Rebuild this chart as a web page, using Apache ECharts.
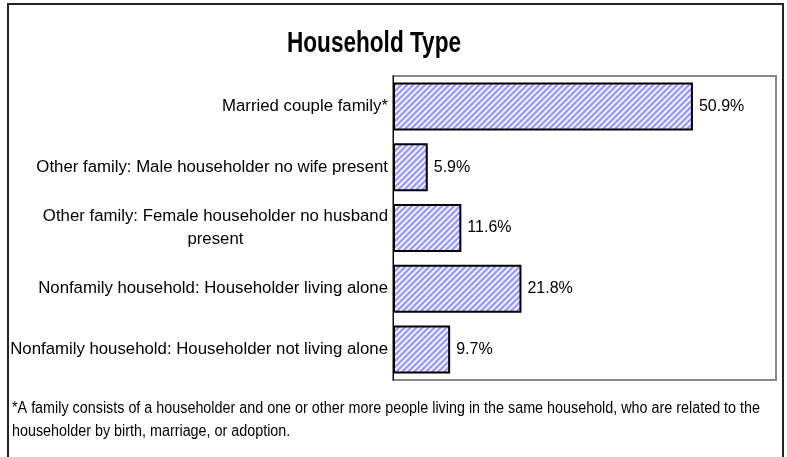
<!DOCTYPE html>
<html>
<head>
<meta charset="utf-8">
<script src="https://cdn.jsdelivr.net/npm/echarts@6/dist/echarts.min.js"></script>
<style>
  html, body { margin: 0; padding: 0; background: #fff; }
  #chart { width: 787px; height: 457px; }
</style>
</head>
<body>
<div id="chart"></div>
<script>
// data
var categories = [
    'Married couple family*',
    'Other family: Male householder no wife present',
    'Other family: Female householder no husband\npresent',
    'Nonfamily household: Householder living alone',
    'Nonfamily household: Householder not living alone'
];
var shares = [50.9, 5.9, 11.6, 21.8, 9.7];
var titleText = 'Household Type';
var footLines = [
    '*A family consists of a householder and one or other more people living in the same household, who are related to the',
    'householder by birth, marriage, or adoption.'
];

var baseFont = '"Liberation Sans", Arial, sans-serif';

// striped fill for the bars
function makeStripes() {
    var s = 6;
    var c = document.createElement('canvas');
    c.width = s; c.height = s;
    var ctx = c.getContext('2d');
    ctx.fillStyle = '#ffffff';
    ctx.fillRect(0, 0, s, s);
    ctx.strokeStyle = '#9a9cff';
    ctx.lineWidth = 2.6;
    ctx.beginPath();
    ctx.moveTo(0, s); ctx.lineTo(s, 0);
    ctx.moveTo(-s / 2, s / 2); ctx.lineTo(s / 2, -s / 2);
    ctx.moveTo(s / 2, s * 1.5); ctx.lineTo(s * 1.5, s / 2);
    ctx.stroke();
    return c;
}

// the original uses a narrow face; squeeze the regular one to the same width
function squeeze(text, font, target) {
    var ctx = document.createElement('canvas').getContext('2d');
    ctx.font = font;
    return target / ctx.measureText(text).width;
}

var titleFont = 'bold 30px ' + baseFont;
var footFont = '16px ' + baseFont;
var titleScale = squeeze(titleText, titleFont, 174);
var footScale = squeeze(footLines[0], footFont, 748);

var chart = echarts.init(document.getElementById('chart'));
chart.setOption({
    animation: false,
    textStyle: { fontFamily: baseFont },
    grid: {
        left: 393, top: 76, right: 11, bottom: 77,
        show: true, borderColor: '#888', borderWidth: 2
    },
    xAxis: {
        type: 'value', min: 0, max: 65,
        axisLine: {show: false}, axisTick: {show: false},
        axisLabel: {show: false}, splitLine: {show: false}
    },
    yAxis: {
        type: 'category', inverse: true, data: categories,
        axisLine: {show: true, lineStyle: {color: '#000', width: 1}},
        axisTick: {show: false},
        axisLabel: {
            margin: 5, color: '#000', fontSize: 16.8,
            formatter: function (v) { return '{c|' + v.split('\n').join('}\n{c|') + '}'; },
            rich: { c: { align: 'center', fontSize: 16.8, color: '#000', lineHeight: 23 } }
        }
    },
    series: [{
        type: 'bar',
        data: shares,
        barCategoryGap: '21%',
        itemStyle: {
            color: {image: makeStripes(), repeat: 'repeat'},
            borderColor: '#000', borderWidth: 2
        },
        label: {
            show: true, position: 'right', distance: 6,
            color: '#000', fontSize: 16,
            formatter: function (p) { return p.value.toFixed(1) + '%'; }
        }
    }],
    graphic: [
        {
            type: 'rect', shape: {x: 8, y: 4, width: 775, height: 470},
            style: {fill: 'none', stroke: '#222', lineWidth: 2}, silent: true
        },
        {
            type: 'text', x: 287, y: 44, scaleX: titleScale,
            style: {
                text: titleText, fill: '#000', font: titleFont,
                textAlign: 'left', textVerticalAlign: 'middle'
            }
        },
        {
            type: 'text', x: 12, y: 397, scaleX: footScale,
            style: {
                text: footLines.join('\n'), fill: '#000', lineHeight: 23,
                font: footFont, textAlign: 'left', textVerticalAlign: 'top'
            }
        }
    ]
});
</script>
</body>
</html>
